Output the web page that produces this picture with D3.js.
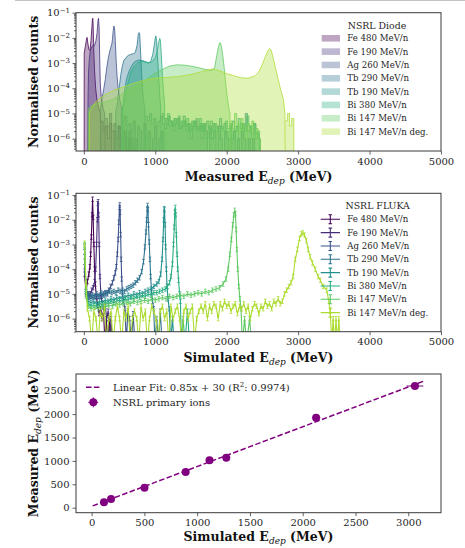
<!DOCTYPE html>
<html>
<head>
<meta charset="utf-8">
<script src="https://cdn.jsdelivr.net/npm/d3@7"></script>
<style>
body { margin: 0; background: #fff; }
svg { display: block; font-family: "DejaVu Serif", serif; }
</style>
</head>
<body>
<svg id="fig" width="465" height="548"></svg>
<script>
// ion runs, same order in both spectra panels
var ionLabels = ["Fe 480 MeV/n", "Fe 190 MeV/n", "Ag 260 MeV/n", "Tb 290 MeV/n",
                 "Tb 190 MeV/n", "Bi 380 MeV/n", "Bi 147 MeV/n", "Bi 147 MeV/n deg."];

// measured spectra (diode): [MeV, log10 normalised counts], -7 = empty bin
var measFe480 = [[0,-7],[4,-7],[5,-2.6],[20,-2.35],[35,-2.1],[45,-1.98],[55,-2.2],[70,-2.45],[85,-2.5],[100,-2.1],[112,-1.6],[120,-1.25],[126,-1.22],[132,-1.7],[140,-2.6],[150,-3.3],[165,-4.0],[185,-4.5],[210,-4.8],[232,-5.0],[240,-7]];
var measFe190 = [[55,-7],[58,-4.5],[65,-3.4],[75,-2.9],[90,-2.5],[110,-2.35],[130,-2.3],[150,-2.3],[170,-2.1],[185,-1.8],[198,-1.3],[206,-1.22],[214,-1.6],[222,-2.8],[230,-3.8],[245,-4.4],[270,-4.8],[292,-5.0],[300,-7]];
var measAg260 = [[230,-7],[235,-4.8],[255,-4.4],[280,-4.0],[300,-3.65],[320,-3.2],[345,-2.75],[370,-2.45],[395,-2.2],[410,-1.75],[420,-1.53],[430,-1.6],[440,-2.1],[452,-2.9],[465,-3.5],[480,-4.0],[500,-4.4],[520,-4.7],[538,-4.9],[540,-7]];
var measTb290 = [[440,-7],[445,-4.9],[465,-4.7],[490,-4.1],[515,-3.5],[540,-3.1],[560,-2.9],[590,-2.78],[620,-2.7],[650,-2.66],[690,-2.63],[720,-2.58],[745,-2.3],[760,-1.9],[772,-1.79],[782,-1.85],[795,-2.6],[808,-3.4],[820,-4.0],[835,-4.5],[855,-4.8],[860,-7]];
var measTb190 = [[520,-7],[525,-5.0],[545,-4.7],[570,-4.1],[600,-3.6],[630,-3.35],[670,-3.1],[710,-2.95],[760,-2.88],[820,-2.9],[870,-2.95],[910,-3.0],[940,-2.9],[965,-2.65],[985,-2.3],[1000,-2.0],[1008,-1.92],[1018,-2.1],[1030,-2.7],[1045,-3.4],[1060,-4.2],[1075,-4.8],[1085,-7]];
var measBi380 = [[540,-7],[545,-4.9],[570,-4.5],[600,-4.0],[630,-3.65],[660,-3.35],[700,-3.15],[750,-3.0],[800,-2.93],[850,-2.95],[900,-3.0],[950,-2.95],[1000,-2.8],[1030,-2.5],[1050,-2.15],[1062,-2.02],[1072,-2.1],[1085,-2.7],[1100,-3.5],[1115,-4.1],[1130,-4.6],[1140,-7]];
var measBi147 = [[60,-7],[62,-4.8],[100,-4.7],[150,-4.65],[200,-4.6],[300,-4.55],[400,-4.45],[500,-4.3],[600,-4.1],[700,-3.95],[800,-3.8],[900,-3.6],[1000,-3.4],[1100,-3.25],[1200,-3.12],[1300,-3.07],[1400,-3.08],[1500,-3.12],[1600,-3.18],[1700,-3.25],[1780,-3.3],[1830,-3.2],[1860,-2.7],[1885,-2.35],[1905,-2.18],[1925,-2.3],[1945,-2.7],[1965,-3.2],[1985,-3.8],[2005,-4.3],[2030,-4.8],[2045,-5.0],[2050,-7]];
var measBi147deg = [[75,-7],[78,-5.0],[100,-4.8],[150,-4.6],[200,-4.45],[300,-4.25],[400,-4.1],[500,-4.0],[600,-3.9],[700,-3.8],[800,-3.72],[900,-3.65],[1000,-3.6],[1100,-3.58],[1200,-3.56],[1300,-3.54],[1400,-3.5],[1500,-3.45],[1600,-3.38],[1700,-3.3],[1800,-3.23],[1900,-3.3],[2000,-3.42],[2100,-3.5],[2200,-3.58],[2300,-3.6],[2400,-3.5],[2450,-3.35],[2500,-3.05],[2540,-2.75],[2570,-2.55],[2600,-2.42],[2625,-2.5],[2650,-2.8],[2680,-3.15],[2720,-3.65],[2760,-4.1],[2795,-4.45],[2815,-5.0],[2820,-7]];

// sparse tails of the measured spectra, 30 MeV bins, null = empty bin
var tailBin = 30;
var tailStart = [240, 300, 540, 860, 1090, 1140, 2050, 2820];
var tailFe480 = [-5.3,-5.7,-5.5,-6.0,-5.4,null,-5.7,-6.0,-5.5,null,-6.0,-5.7,null,-6.0];
var tailFe190 = [-5.2,-5.5,-5.0,-5.7,-5.4,-6.0,-5.5,null,-5.7,-6.0,null,-5.7,-6.0,null,-6.0];
var tailAg260 = [-5.3,-5.1,-5.5,-5.4,-5.7,-5.3,-6.0,-5.5,-5.7,null,-5.4,-6.0,-5.7,null,-6.0,-5.5,null,-6.0,-5.7,null];
var tailTb290 = [-5.1,-5.3,-5.0,-5.4,-5.2,-5.5,-5.3,-5.1,-5.4,-5.6,-5.2,-5.5,-5.3,-5.7,-5.4,-5.2,-5.6,-5.5,-5.3,-5.7,-5.4,-6.0,-5.5,-5.3,-5.7,-5.5,-6.0,-5.4,-5.7,null,-5.5,-6.0,-5.7,null,-5.5,-6.0,null,-5.7,-6.0,null,-6.0,-5.7,null,-6.0,null,-5.7,-6.0,null,-6.0,null,-6.0];
var tailTb190 = [-5.0,-5.2,-5.4,-5.1,-5.3,-5.5,-5.2,-5.4,-5.6,-5.3,-5.1,-5.5,-5.4,-5.7,-5.3,-5.5,-5.2,-5.6,-5.4,-5.7,-5.5,-5.3,-5.6,-6.0,-5.4,-5.7,-5.5,-5.2,-5.6,-5.4,-5.7,-6.0,-5.5,-5.3,-5.7,-5.5,-6.0,-5.4,-5.6,-5.0,-5.7,-5.5,-6.0,-5.4,-5.8,-6.0];
var tailBi380 = [-5.2,-5.0,-5.3,-5.5,-5.2,-5.4,-5.1,-5.6,-5.3,-5.5,-5.2,-5.7,-5.4,-5.3,-5.6,-5.5,-5.2,-5.7,-5.4,-6.0,-5.5,-5.3,-5.7,-5.4,-5.6,-6.0,-5.5,-5.7,-5.3,-5.6,-5.4,-6.0,-5.7,-5.5,-5.2,-5.6,-5.4,-5.7,-5.1,-5.5,-5.8,-5.4,-6.0,-5.7];
var tailBi147 = [-5.3,-5.6,-5.0,-5.4,-5.7,-5.2,-5.5,-6.0,-5.4,-5.7,-5.3,-6.0,-5.6,-6.0];
var tailBi147deg = [-5.3,-5.0,-5.5,-5.2];

// simulated spectra (FLUKA): [MeV, log10 normalised counts], -7 = empty bin
var simFe480 = [[10,-4.2],[30,-4.9],[50,-4.5],[70,-4.2],[85,-3.9],[95,-3.4],[105,-2.7],[115,-1.8],[122,-1.17],[130,-1.9],[140,-3.0],[150,-4.0],[160,-4.6],[175,-5.1],[195,-5.5],[215,-5.8],[235,-5.6],[255,-6.0],[275,-5.7],[295,-7],[315,-6.0],[335,-7],[355,-6.0],[375,-7]];
var simFe190 = [[10,-3.9],[30,-5.0],[50,-5.1],[70,-5.0],[90,-5.0],[110,-4.85],[130,-4.75],[150,-4.5],[165,-4.0],[178,-3.0],[188,-2.0],[195,-1.35],[200,-1.27],[207,-1.8],[215,-3.0],[225,-4.3],[240,-5.1],[260,-5.4],[280,-5.7],[300,-5.5],[320,-6.0],[340,-5.7],[360,-7],[380,-6.0],[400,-7]];
var simAg260 = [[10,-3.5],[30,-4.9],[50,-5.1],[75,-5.15],[100,-5.1],[125,-5.15],[150,-5.1],[175,-5.15],[200,-5.1],[225,-5.05],[250,-5.1],[275,-5.0],[300,-5.0],[325,-4.95],[350,-4.85],[375,-4.7],[400,-4.55],[420,-4.35],[440,-4.15],[455,-3.9],[468,-3.4],[480,-2.8],[490,-2.1],[498,-1.5],[503,-1.4],[508,-1.7],[515,-2.6],[522,-3.6],[530,-4.4],[540,-4.95],[555,-5.3],[575,-5.6],[595,-7],[615,-5.7],[640,-6.0],[665,-7],[690,-5.8],[715,-7]];
var simTb290 = [[10,-3.3],[30,-4.8],[60,-5.0],[90,-5.1],[120,-5.05],[150,-5.1],[180,-5.0],[210,-5.1],[240,-4.95],[270,-5.05],[300,-4.95],[330,-5.0],[360,-4.9],[390,-4.95],[420,-4.9],[450,-4.95],[480,-4.85],[510,-4.9],[540,-4.85],[570,-4.9],[600,-4.8],[630,-4.75],[660,-4.7],[690,-4.65],[720,-4.55],[750,-4.45],[780,-4.35],[810,-4.1],[835,-3.7],[855,-3.1],[870,-2.5],[880,-2.0],[888,-1.55],[893,-1.42],[898,-1.6],[905,-2.2],[915,-2.9],[925,-3.6],[935,-4.3],[948,-4.9],[962,-5.3],[978,-5.6],[995,-7],[1020,-6.0],[1045,-7],[1070,-5.7],[1095,-7]];
var simTb190 = [[10,-3.1],[30,-4.9],[60,-5.3],[100,-5.35],[140,-5.3],[180,-5.4],[220,-5.3],[260,-5.35],[300,-5.25],[340,-5.3],[380,-5.2],[420,-5.25],[460,-5.15],[500,-5.2],[540,-5.1],[580,-5.15],[620,-5.05],[660,-5.1],[700,-5.0],[740,-5.05],[780,-4.95],[820,-5.0],[860,-4.9],[900,-4.85],[940,-4.8],[980,-4.7],[1020,-4.6],[1050,-4.5],[1075,-4.2],[1095,-3.6],[1108,-2.8],[1118,-2.0],[1124,-1.55],[1130,-1.6],[1137,-2.2],[1145,-3.1],[1155,-4.0],[1165,-4.7],[1178,-5.2],[1195,-5.6],[1215,-7],[1240,-6.0],[1265,-7]];
var simBi380 = [[10,-3.05],[30,-5.0],[60,-5.4],[100,-5.5],[140,-5.45],[180,-5.5],[220,-5.4],[260,-5.45],[300,-5.35],[340,-5.4],[380,-5.3],[420,-5.35],[460,-5.3],[500,-5.25],[540,-5.3],[580,-5.2],[620,-5.25],[660,-5.15],[700,-5.2],[740,-5.1],[780,-5.15],[820,-5.05],[860,-5.1],[900,-5.0],[940,-5.05],[980,-4.95],[1020,-4.95],[1060,-4.9],[1100,-4.85],[1140,-4.8],[1170,-4.7],[1200,-4.55],[1220,-4.3],[1240,-3.8],[1255,-3.0],[1265,-2.3],[1273,-1.7],[1280,-1.5],[1287,-1.8],[1295,-2.6],[1305,-3.4],[1315,-4.0],[1326,-4.45],[1340,-5.0],[1352,-5.3],[1365,-7],[1390,-6.0],[1415,-7],[1450,-5.7],[1480,-7]];
var simBi147 = [[10,-3.0],[30,-5.1],[60,-5.5],[100,-5.6],[150,-5.55],[200,-5.6],[250,-5.5],[300,-5.55],[350,-5.45],[400,-5.5],[450,-5.4],[500,-5.45],[550,-5.4],[600,-5.35],[650,-5.4],[700,-5.3],[750,-5.35],[800,-5.3],[850,-5.25],[900,-5.3],[950,-5.2],[1000,-5.25],[1050,-5.2],[1100,-5.15],[1150,-5.2],[1200,-5.1],[1250,-5.15],[1300,-5.1],[1350,-5.05],[1400,-5.1],[1450,-5.0],[1500,-5.05],[1550,-5.0],[1600,-4.95],[1650,-5.0],[1700,-4.9],[1750,-4.95],[1800,-4.85],[1850,-4.8],[1900,-4.75],[1950,-4.6],[1990,-4.4],[2020,-4.0],[2045,-3.4],[2065,-2.8],[2085,-2.2],[2100,-1.8],[2112,-1.62],[2122,-1.75],[2132,-2.4],[2142,-3.2],[2155,-4.0],[2170,-4.7],[2185,-5.2],[2200,-5.6],[2220,-7],[2250,-6.0],[2280,-7],[2320,-6.0],[2350,-7]];
var simBi147deg = [[10,-2.95],[30,-4.6],[50,-5.6],[80,-6.0],[110,-7],[140,-5.7],[170,-6.0],[200,-7],[230,-5.7],[260,-6.0],[290,-5.5],[320,-7],[350,-6.0],[380,-5.7],[410,-7],[440,-6.0],[470,-5.5],[500,-6.0],[530,-7],[560,-5.7],[590,-6.0],[620,-5.5],[650,-7],[680,-6.0],[710,-5.7],[740,-6.0],[770,-7],[800,-5.5],[830,-6.0],[860,-5.7],[890,-7],[920,-6.0],[950,-5.5],[980,-5.7],[1010,-6.0],[1040,-7],[1070,-5.7],[1100,-5.5],[1130,-6.0],[1160,-5.7],[1190,-7],[1220,-5.5],[1250,-6.0],[1280,-5.7],[1310,-5.5],[1340,-6.0],[1370,-7],[1400,-5.7],[1430,-5.5],[1460,-6.0],[1490,-5.7],[1520,-5.5],[1550,-7],[1580,-6.0],[1610,-5.7],[1640,-5.5],[1670,-5.7],[1700,-5.4],[1730,-6.0],[1760,-5.5],[1790,-5.7],[1820,-5.4],[1850,-5.5],[1880,-6.0],[1910,-5.4],[1940,-5.6],[1970,-5.3],[2000,-5.5],[2030,-5.4],[2060,-5.7],[2090,-5.5],[2120,-5.4],[2150,-5.8],[2180,-5.5],[2210,-5.6],[2240,-5.4],[2270,-5.7],[2300,-5.5],[2330,-6.0],[2360,-5.6],[2390,-5.4],[2420,-5.5],[2450,-5.8],[2480,-5.5],[2510,-5.6],[2540,-5.3],[2570,-5.5],[2600,-5.4],[2630,-5.6],[2660,-5.3],[2690,-5.4],[2720,-5.2],[2750,-5.4],[2780,-5.3],[2810,-5.0],[2840,-4.85],[2870,-4.7],[2900,-4.55],[2930,-4.3],[2960,-3.6],[2990,-3.2],[3020,-2.75],[3045,-2.57],[3066,-2.53],[3090,-2.62],[3115,-2.85],[3140,-3.2],[3168,-3.5],[3200,-3.75],[3240,-4.0],[3280,-4.3],[3310,-4.45],[3350,-4.7],[3400,-4.85],[3430,-5.3],[3450,-5.7],[3470,-7],[3490,-6.0],[3510,-7],[3530,-6.0],[3550,-7],[3570,-6.0],[3590,-7]];

// primary-ion peak positions (MeV)
var simPeak  = [117, 184, 501, 891, 1117, 1276, 2127, 3063];
var measPeak = [115, 186, 427, 763, 1013, 1068, 1923, 2600];
var simErr   = [15, 15, 20, 25, 25, 30, 40, 80];
var measErr  = [10, 10, 15, 20, 20, 20, 30, 35];
var fitSlope = 0.85, fitIntercept = 30, fitR2 = 0.9974;
var fitSpan  = [10, 3140];

var spectrumTicks = [0, 1000, 2000, 3000, 4000, 5000];
var peakXTicks = [0, 500, 1000, 1500, 2000, 2500, 3000];
var peakYTicks = [0, 500, 1000, 1500, 2000, 2500];

var measured = [measFe480, measFe190, measAg260, measTb290, measTb190, measBi380, measBi147, measBi147deg];
var tails = [tailFe480, tailFe190, tailAg260, tailTb290, tailTb190, tailBi380, tailBi147, tailBi147deg];
var simulated = [simFe480, simFe190, simAg260, simTb290, simTb190, simBi380, simBi147, simBi147deg];

var svg = d3.select("#fig");
var L = 76, R = 441;
var pTop = {t: 12.7, b: 151}, pMid = {t: 193.3, b: 331.7}, pBot = {t: 374, b: 512.7};
var axisColor = "#3a3a3a", textColor = "#262626";
var purple = "#800080";

var colors = d3.scaleOrdinal()
    .domain(d3.range(ionLabels.length))
    .range(d3.range(ionLabels.length).map(function (i) { return d3.interpolateViridis(i / 8); }));

var p10 = function (v) { return Math.pow(10, v == null ? -9 : v); };

svg.append("line").attr("x1", 15).attr("x2", 465).attr("y1", 0.5).attr("y2", 0.5)
    .attr("stroke", "#c4c4c4").attr("stroke-width", 1);

var xSpec = d3.scaleLinear().domain([-110, 5000]).range([L, R]);
var yTop = d3.scaleLog().domain([p10(-6.49), p10(-1)]).range([pTop.b, pTop.t]);
var yMid = d3.scaleLog().domain([p10(-6.53), p10(-0.93)]).range([pMid.b, pMid.t]);
var xPk = d3.scaleLinear().domain([-148, 3310]).range([L, R]);
var yPk = d3.scaleLinear().domain([-107, 2857]).range([pBot.b, pBot.t]);

var defs = svg.append("defs");
[["clipTop", pTop], ["clipMid", pMid], ["clipBot", pBot]].forEach(function (c) {
    defs.append("clipPath").attr("id", c[0]).append("rect")
        .attr("x", L).attr("y", c[1].t).attr("width", R - L).attr("height", c[1].b - c[1].t);
});

var styleAxis = function (g, size) {
    g.select(".domain").remove();
    g.selectAll(".tick line").attr("stroke", axisColor).attr("stroke-width", 0.8);
    g.selectAll(".tick text").attr("fill", textColor).attr("font-size", size || 10)
        .attr("font-family", "'DejaVu Serif', serif");
};

var drawXAxis = function (scale, panel, ticks) {
    svg.append("g").attr("transform", "translate(0," + panel.b + ")")
        .call(d3.axisBottom(scale).tickValues(ticks).tickSize(3.5).tickPadding(3).tickFormat(d3.format("d")))
        .call(styleAxis);
};

var drawLogYAxis = function (scale, panel) {
    var lo = Math.log10(scale.domain()[0]), hi = Math.log10(scale.domain()[1]);
    var major = d3.range(Math.ceil(lo), Math.floor(hi) + 1).map(p10);
    var minor = [];
    d3.range(Math.floor(lo), Math.ceil(hi)).forEach(function (e) {
        d3.range(2, 10).forEach(function (k) {
            var v = k * p10(e);
            if (v >= scale.domain()[0] && v <= scale.domain()[1]) minor.push(v);
        });
    });
    svg.append("g").attr("transform", "translate(" + L + ",0)")
        .call(d3.axisLeft(scale).tickValues(minor).tickSize(2).tickFormat(""))
        .call(styleAxis);
    var g = svg.append("g").attr("transform", "translate(" + L + ",0)")
        .call(d3.axisLeft(scale).tickValues(major).tickSize(3.5).tickPadding(2.5).tickFormat(function () { return "10"; }))
        .call(styleAxis);
    g.selectAll(".tick text").append("tspan")
        .attr("dy", "-0.5em").attr("font-size", 7)
        .text(function (d) { return "\u2212" + Math.round(-Math.log10(d)); });
};

var frame = function (panel) {
    svg.append("rect").attr("x", L).attr("y", panel.t).attr("width", R - L).attr("height", panel.b - panel.t)
        .attr("fill", "none").attr("stroke", axisColor).attr("stroke-width", 1);
};

// label with italic subscript "dep"
var edepLabel = function (sel, pre) {
    sel.text(pre + "E");
    sel.append("tspan").attr("font-style", "italic").attr("font-weight", "normal")
        .attr("font-size", 9).attr("dy", 3).text("dep");
    sel.append("tspan").attr("dy", -3).text(" (MeV)");
};

var xLabel = function (yBase, pre) {
    var t = svg.append("text").attr("x", (L + R) / 2).attr("y", yBase)
        .attr("text-anchor", "middle").attr("font-weight", "bold").attr("font-size", 12.5).attr("fill", "#111");
    edepLabel(t, pre);
};

var yLabel = function (panel, txt, withSub) {
    var t = svg.append("text")
        .attr("transform", "translate(37.5," + (panel.t + panel.b) / 2 + ") rotate(-90)")
        .attr("text-anchor", "middle").attr("font-weight", "bold").attr("font-size", 12.5).attr("fill", "#111");
    if (withSub) edepLabel(t, txt); else t.text(txt);
};

// ---------- panel 1: measured spectra ----------
var gTop = svg.append("g").attr("clip-path", "url(#clipTop)");
var areaTop = d3.area().x(function (d) { return xSpec(d[0]); })
    .y0(pTop.b + 2).y1(function (d) { return yTop(p10(d[1])); });
var lineTop = d3.line().x(function (d) { return xSpec(d[0]); })
    .y(function (d) { return yTop(p10(d[1])); });

measured.forEach(function (body, i) {
    var steps = tails[i].map(function (v, k) { return [tailStart[i] + k * tailBin, v == null ? -9 : v]; });
    steps.push([tailStart[i] + tails[i].length * tailBin, -9]);
    var c = colors(i);
    gTop.append("path").attr("d", areaTop(body)).attr("fill", c).attr("fill-opacity", 0.35);
    gTop.append("path").attr("d", areaTop.curve(d3.curveStepAfter)(steps)).attr("fill", c).attr("fill-opacity", 0.35);
    areaTop.curve(d3.curveLinear);
    gTop.append("path").attr("d", lineTop(body)).attr("fill", "none").attr("stroke", c)
        .attr("stroke-width", 0.9).attr("stroke-opacity", 0.85);
    gTop.append("path").attr("d", lineTop.curve(d3.curveStepAfter)(steps)).attr("fill", "none").attr("stroke", c)
        .attr("stroke-width", 0.9).attr("stroke-opacity", 0.85);
    lineTop.curve(d3.curveLinear);
});

drawXAxis(xSpec, pTop, spectrumTicks);
drawLogYAxis(yTop, pTop);
frame(pTop);
xLabel(181, "Measured ");
yLabel(pTop, "Normalised counts", false);

var legTop = svg.append("g").attr("font-size", 8.6).attr("fill", textColor);
legTop.append("text").attr("x", 377).attr("y", 28.5).attr("text-anchor", "middle")
    .attr("font-size", 9.4).text("NSRL Diode");
ionLabels.forEach(function (lab, i) {
    var cy = 38.3 + i * 13.33;
    legTop.append("rect").attr("x", 321.7).attr("y", cy - 3.3).attr("width", 18.3).attr("height", 6.6)
        .attr("fill", colors(i)).attr("fill-opacity", 0.35);
    legTop.append("text").attr("x", 347.3).attr("y", cy + 3).text(lab);
});

// ---------- panel 2: simulated spectra ----------
var gMid = svg.append("g").attr("clip-path", "url(#clipMid)");
var lineMid = d3.line().x(function (d) { return xSpec(d[0]); })
    .y(function (d) { return yMid(p10(d[1])); });

simulated.forEach(function (pts, i) {
    var c = colors(i);
    gMid.append("path").attr("d", lineMid(pts)).attr("fill", "none").attr("stroke", c).attr("stroke-width", 1.1);
    gMid.selectAll(null).data(pts.filter(function (d) { return d[1] > -6.6; })).enter()
        .append("path")
        .attr("d", function (d) {
            var px = xSpec(d[0]), py = yMid(p10(d[1]));
            return "M" + px + "," + (py - 2.2) + "V" + (py + 2.2) +
                "M" + (px - 1.3) + "," + (py - 2.2) + "H" + (px + 1.3) +
                "M" + (px - 1.3) + "," + (py + 2.2) + "H" + (px + 1.3);
        })
        .attr("stroke", c).attr("stroke-width", 0.8).attr("fill", "none");
});

drawXAxis(xSpec, pMid, spectrumTicks);
drawLogYAxis(yMid, pMid);
frame(pMid);
xLabel(362, "Simulated ");
yLabel(pMid, "Normalised counts", false);

var legMid = svg.append("g").attr("font-size", 8.6).attr("fill", textColor);
legMid.append("text").attr("x", 377.7).attr("y", 209).attr("text-anchor", "middle")
    .attr("font-size", 9.4).text("NSRL FLUKA");
ionLabels.forEach(function (lab, i) {
    var cy = 219.3 + i * 13.33, c = colors(i);
    legMid.append("path")
        .attr("d", "M320.7," + cy + "H340M330.3," + (cy - 4.5) + "V" + (cy + 4.5) +
            "M328.5," + (cy - 4.5) + "H332.1M328.5," + (cy + 4.5) + "H332.1")
        .attr("stroke", c).attr("stroke-width", 1.1).attr("fill", "none");
    legMid.append("text").attr("x", 347.3).attr("y", cy + 3).text(lab);
});

// ---------- panel 3: measured vs simulated peaks ----------
var gBot = svg.append("g").attr("clip-path", "url(#clipBot)");
gBot.append("line")
    .attr("x1", xPk(fitSpan[0])).attr("y1", yPk(fitSlope * fitSpan[0] + fitIntercept))
    .attr("x2", xPk(fitSpan[1])).attr("y2", yPk(fitSlope * fitSpan[1] + fitIntercept))
    .attr("stroke", purple).attr("stroke-width", 1.5).attr("stroke-dasharray", "5.5,2.4");

var pk = gBot.selectAll("g.pk").data(simPeak).enter().append("g").attr("class", "pk");
pk.append("path").attr("d", function (d, i) {
    var px = xPk(d), py = yPk(measPeak[i]);
    return "M" + xPk(d - simErr[i]) + "," + py + "H" + xPk(d + simErr[i]) +
        "M" + px + "," + yPk(measPeak[i] - measErr[i]) + "V" + yPk(measPeak[i] + measErr[i]);
}).attr("stroke", purple).attr("stroke-width", 1).attr("fill", "none");
pk.append("circle").attr("cx", function (d) { return xPk(d); })
    .attr("cy", function (d, i) { return yPk(measPeak[i]); })
    .attr("r", 4).attr("fill", purple);

drawXAxis(xPk, pBot, peakXTicks);
svg.append("g").attr("transform", "translate(" + L + ",0)")
    .call(d3.axisLeft(yPk).tickValues(peakYTicks).tickSize(3.5).tickPadding(3).tickFormat(d3.format("d")))
    .call(styleAxis);
frame(pBot);
xLabel(541, "Simulated ");
yLabel(pBot, "Measured ", true);

var legBot = svg.append("g").attr("font-size", 10).attr("fill", textColor);
legBot.append("line").attr("x1", 86).attr("x2", 101).attr("y1", 387.3).attr("y2", 387.3)
    .attr("stroke", purple).attr("stroke-width", 1.5).attr("stroke-dasharray", "5.5,2.4");
var fitText = legBot.append("text").attr("x", 113).attr("y", 390.8)
    .text("Linear Fit: " + fitSlope + "x + " + fitIntercept + " (R");
fitText.append("tspan").attr("dy", -4).attr("font-size", 7).text("2");
fitText.append("tspan").attr("dy", 4).text(": " + fitR2 + ")");
legBot.append("path").attr("d", "M88.3,402.3H98.3M93.3,397.3V407.3")
    .attr("stroke", purple).attr("stroke-width", 1);
legBot.append("circle").attr("cx", 93.3).attr("cy", 402.3).attr("r", 4).attr("fill", purple);
legBot.append("text").attr("x", 113).attr("y", 405.8).text("NSRL primary ions");
</script>
</body>
</html>
